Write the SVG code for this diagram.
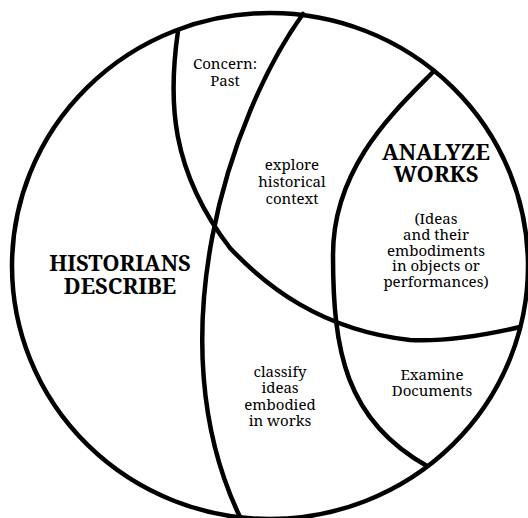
<svg xmlns="http://www.w3.org/2000/svg" width="528" height="518" viewBox="0 0 528 518">
<style>
.ln{fill:none;stroke:#000;stroke-width:4.5;stroke-linecap:round;stroke-linejoin:round}
.t{font-family:'Noto Serif','DejaVu Serif',serif;font-size:15px;fill:#000;text-anchor:middle}
.h{font-family:'Noto Serif','DejaVu Serif',serif;font-size:22px;font-weight:bold;fill:#000;text-anchor:middle}
</style>
<rect width="528" height="518" fill="#fff"/>
<g id="connectors">
<ellipse id="outer" class="ln" cx="270" cy="266" rx="258" ry="253"/>
<path id="curveA" class="ln" d="M178,31 C168,100 170,170 230,248 C265,285 320,330 410,340 C450,342 490,334 520,327"/>
<path id="curveB" class="ln" d="M303,14 C230,115 155,340 240,517"/>
<path id="curveC" class="ln" d="M434,71 C398,108 333,165 333,255 C333,350 345,420 427,466"/>
</g>
<g id="concern">
<text class="t" x="225" y="69">Concern:</text>
<text class="t" x="225" y="86">Past</text>
</g>
<g id="explore">
<text class="t" x="292" y="170">explore</text>
<text class="t" x="292" y="187">historical</text>
<text class="t" x="292" y="204">context</text>
</g>
<g id="analyze">
<text class="h" x="436" y="160">ANALYZE</text>
<text class="h" x="436" y="182">WORKS</text>
<text class="t" x="436" y="224">(Ideas</text>
<text class="t" x="436" y="240">and their</text>
<text class="t" x="436" y="256">embodiments</text>
<text class="t" x="436" y="271">in objects or</text>
<text class="t" x="436" y="287">performances)</text>
</g>
<g id="historians">
<text class="h" x="120" y="271">HISTORIANS</text>
<text class="h" x="120" y="294">DESCRIBE</text>
</g>
<g id="classify">
<text class="t" x="280" y="377">classify</text>
<text class="t" x="280" y="393">ideas</text>
<text class="t" x="280" y="410">embodied</text>
<text class="t" x="280" y="426">in works</text>
</g>
<g id="examine">
<text class="t" x="432" y="380">Examine</text>
<text class="t" x="432" y="396">Documents</text>
</g>
</svg>
